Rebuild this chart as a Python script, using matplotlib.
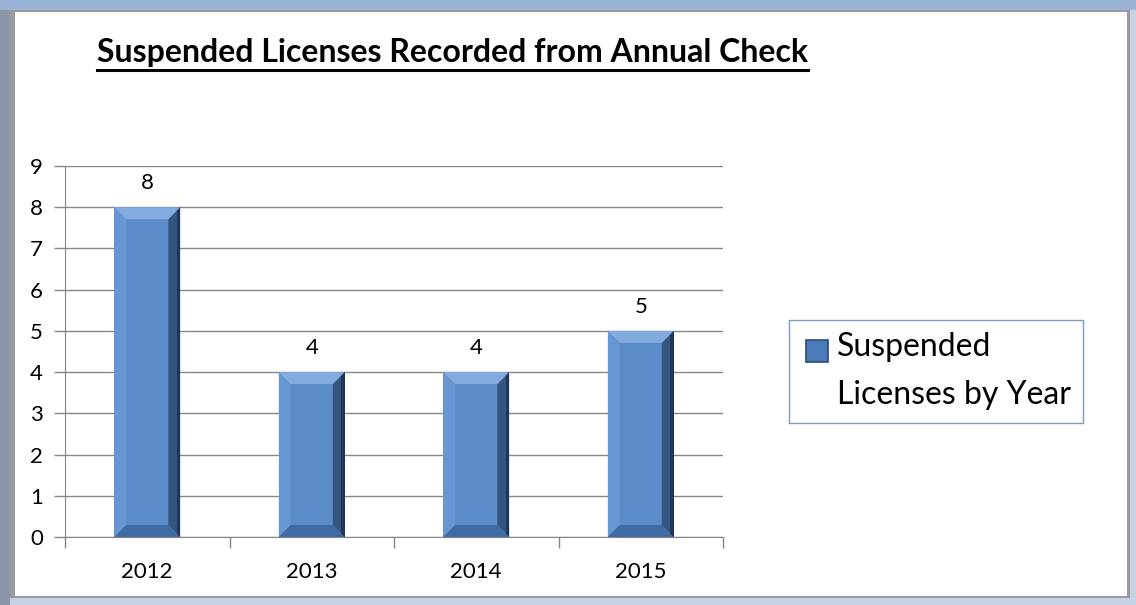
import matplotlib
matplotlib.use('Agg')
import matplotlib.pyplot as plt
from matplotlib.patches import Polygon, Rectangle
from matplotlib.lines import Line2D
from matplotlib.legend_handler import HandlerPatch

# Chart data
years = ['2012', '2013', '2014', '2015']
suspended = [8, 4, 4, 5]
series_name = 'Suspended\nLicenses by Year'
title = 'Suspended Licenses Recorded from Annual Check'

plt.rcParams['font.family'] = ['Lato', 'DejaVu Sans']

W, H = 1136, 605
fig = plt.figure(figsize=(W / 100, H / 100), dpi=100)
fig.patch.set_facecolor('#c5d2e4')

# window-ish frame around the chart
frame = [
    ((0, 0), 10 / W, 1, '#8b97a8'),
    ((0, 1 - 10 / H), 1, 10 / H, '#9bb3d6'),
    ((10 / W, 1 - 598 / H), 1120 / W, 588 / H, '#9a9a9a'),
    ((15 / W, 1 - 596 / H), 1112 / W, 584 / H, 'white'),
]
for xy, fw, fh, fc in frame:
    fig.patches.append(Rectangle(xy, fw, fh, transform=fig.transFigure,
                                 facecolor=fc, edgecolor='none', zorder=-10))

ax = fig.add_axes([65 / W, 1 - 537 / H, (723 - 65) / W, (537 - 166) / H])
ax.set_zorder(1)
ax.set_facecolor('none')

x = list(range(len(years)))
bars = ax.bar(x, suspended, width=0.40, color='#5b8bc9', edgecolor='none', zorder=3)

# bevel effect built on each bar's geometry
for b in bars:
    x0, w, h = b.get_x(), b.get_width(), b.get_height()
    dx, dy = 0.18 * w, 0.29
    x1 = x0 + w
    ax.add_patch(Polygon([(x0, 0), (x0, h), (x0 + dx, h - dy), (x0 + dx, dy)],
                         closed=True, facecolor='#6797d3', edgecolor='none', zorder=4))
    ax.add_patch(Polygon([(x1, 0), (x1, h), (x1 - dx, h - dy), (x1 - dx, dy)],
                         closed=True, facecolor='#34557f', edgecolor='none', zorder=4))
    ax.add_patch(Polygon([(x1 - 0.05 * w, 0), (x1 - 0.05 * w, h), (x1, h), (x1, 0)],
                         closed=True, facecolor='#1f3658', edgecolor='none', zorder=4))
    ax.add_patch(Polygon([(x0, h), (x1, h), (x1 - dx, h - dy), (x0 + dx, h - dy)],
                         closed=True, facecolor='#84abe0', edgecolor='none', zorder=5))
    ax.add_patch(Polygon([(x0, 0), (x1, 0), (x1 - dx, dy), (x0 + dx, dy)],
                         closed=True, facecolor='#3f6aa3', edgecolor='none', zorder=5))

ax.bar_label(bars, labels=[str(v) for v in suspended], padding=10, fontsize=16, color='black')

ax.set_xlim(-0.5, len(years) - 0.5)
ax.set_ylim(0, 9)
ax.set_yticks(range(0, 10))
ax.yaxis.grid(True, color='#868686', linewidth=1.0, zorder=0)
ax.set_axisbelow(True)

ax.set_xticks(x)
ax.set_xticklabels(years, fontsize=16)
ax.set_xticks([i - 0.5 for i in range(len(years) + 1)], minor=True)
ax.tick_params(axis='x', which='major', length=0, pad=18)
ax.tick_params(axis='x', which='minor', length=8, color='#868686', width=1, direction='out')
ax.tick_params(axis='y', length=8, color='#868686', width=1, labelsize=16, pad=8)

for side in ['top', 'right']:
    ax.spines[side].set_visible(False)
ax.spines['left'].set_color('#868686')
ax.spines['bottom'].set_color('#868686')


# legend square sits beside the first line of the two-line label
def top_square(legend, orig_handle, xdescent, ydescent, width, height, fontsize):
    sq = 0.68 * fontsize
    return Rectangle((-xdescent + width - sq, -ydescent + height - sq + 0.15 * fontsize), sq, sq)


leg = ax.legend(handles=[bars[0]], labels=[series_name],
                loc='center left', bbox_to_anchor=(789 / W, 1 - 371.5 / H),
                bbox_transform=fig.transFigure, fontsize=23, frameon=True,
                fancybox=False, edgecolor='#5a7fb8', handlelength=0.83, handleheight=2.4,
                handletextpad=0.3, borderpad=0.38, borderaxespad=0,
                handler_map={bars[0]: HandlerPatch(patch_func=top_square)})
leg.get_frame().set_linewidth(1.0)
for t in leg.get_texts():
    t.set_linespacing(1.75)
for p in leg.get_patches():
    p.set_facecolor('#4a7ab8')
    p.set_edgecolor('#2c4a75')
    p.set_linewidth(1.2)

t = fig.text(97 / W, 1 - 62 / H, title, fontsize=23, fontweight='bold', va='baseline', ha='left')
fig.canvas.draw()
bb = t.get_window_extent()
fig.add_artist(Line2D([bb.x0 / W, bb.x1 / W], [1 - 70 / H, 1 - 70 / H],
                      transform=fig.transFigure, color='black', linewidth=2.2))

fig.savefig('out.png', dpi=100, facecolor=fig.get_facecolor())
